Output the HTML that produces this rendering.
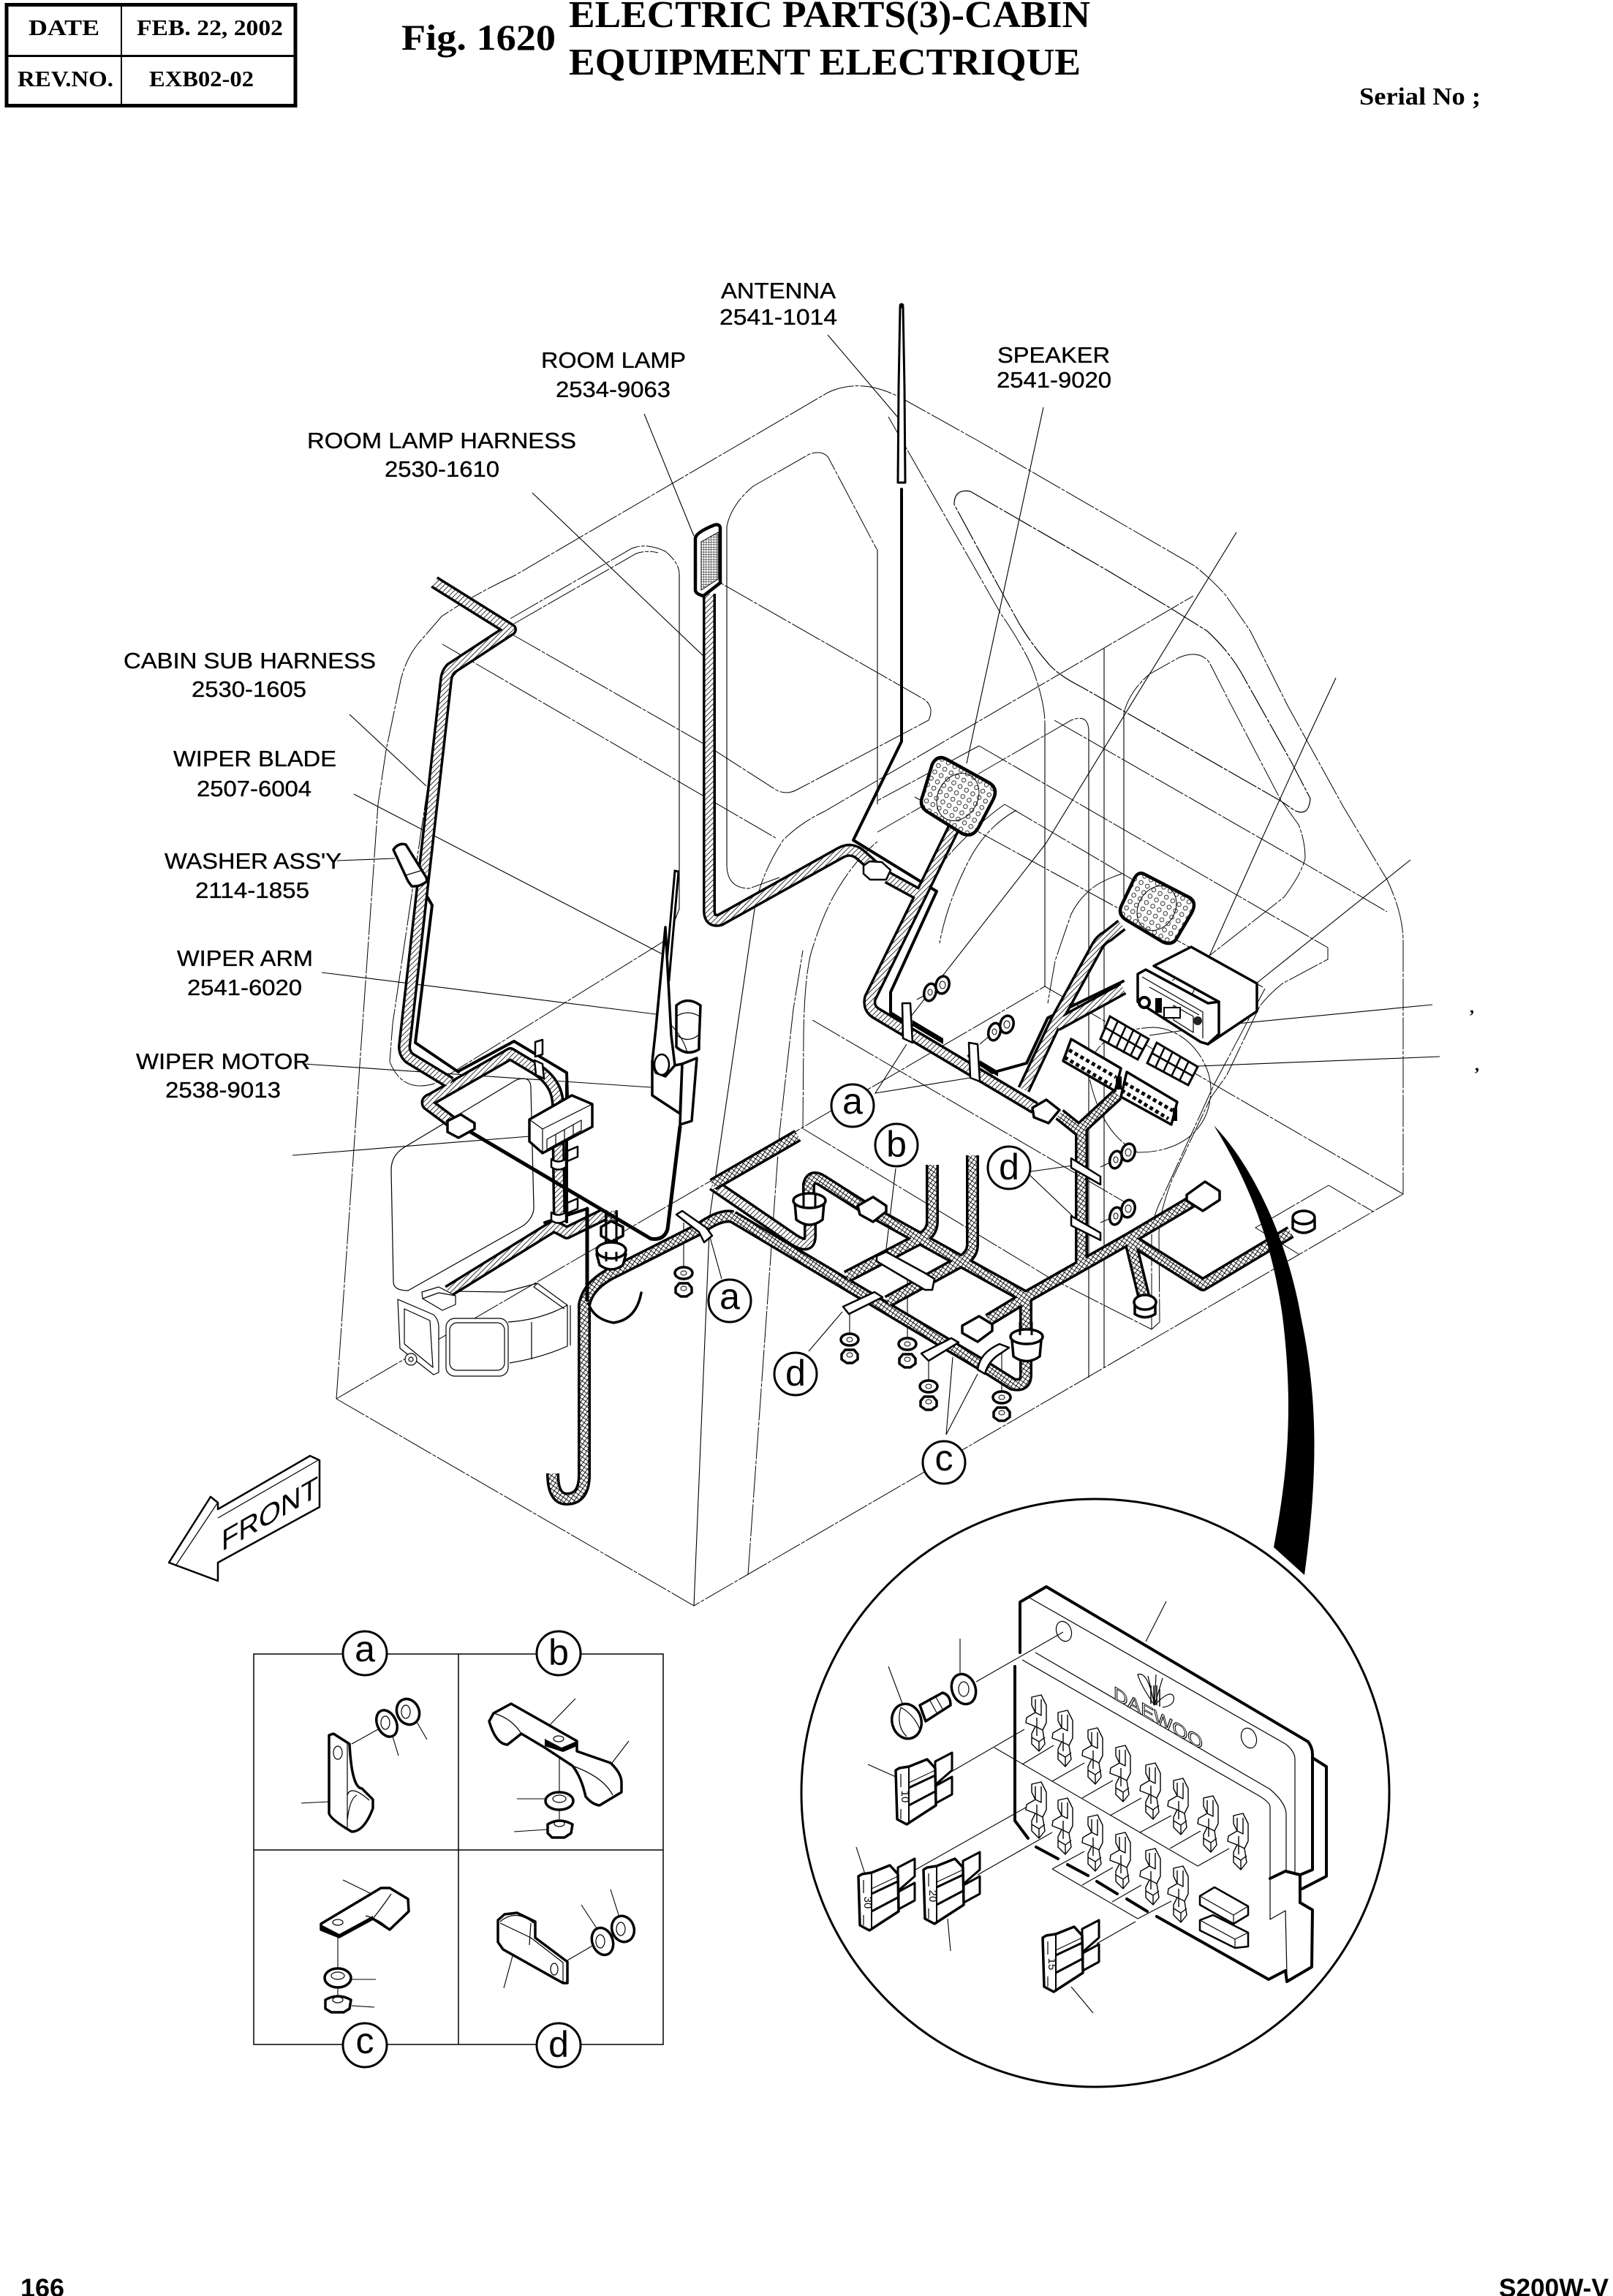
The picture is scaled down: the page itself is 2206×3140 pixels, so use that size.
<!DOCTYPE html>
<html><head><meta charset="utf-8"><title>Fig. 1620</title>
<style>
html,body{margin:0;padding:0;background:#fff;width:2206px;height:3140px;overflow:hidden}
svg{display:block}
.p{fill:none;stroke:#000;stroke-width:1;stroke-dasharray:44 2 5 2}
.l{fill:none;stroke:#000;stroke-width:1.1}
.t{fill:none;stroke:#000;stroke-width:4;stroke-linejoin:round;stroke-linecap:round}
.w{fill:#fff;stroke:#000;stroke-width:2.5;stroke-linejoin:round}
.s{fill:#fff;stroke:#000;stroke-width:3.5;stroke-linejoin:round}
.n{fill:none;stroke:#000;stroke-width:1.2;stroke-linejoin:round}
.lb{font-family:"Liberation Sans",sans-serif;font-size:31px;fill:#000;stroke:#000;stroke-width:.35}
.hd{font-family:"Liberation Serif",serif;font-weight:bold;fill:#000}
.ft{font-family:"Liberation Sans",sans-serif;font-weight:bold;font-size:35px;fill:#000}
.bb{font-family:"Liberation Sans",sans-serif;font-size:50px;fill:#000;text-anchor:middle}
.fz{font-family:"Liberation Sans",sans-serif;font-size:15px;fill:#000;text-anchor:middle}
</style></head><body>
<svg xmlns="http://www.w3.org/2000/svg" width="2206" height="3140" viewBox="0 0 2206 3140">
<defs>
<pattern id="xh" width="5" height="5" patternUnits="userSpaceOnUse" patternTransform="rotate(35)"><rect width="5" height="5" fill="#fff"/><path d="M0,0H5M0,0V5" stroke="#000" stroke-width="1.7"/></pattern>
<pattern id="hh" width="5" height="5" patternUnits="userSpaceOnUse" patternTransform="rotate(45)"><rect width="5" height="5" fill="#fff"/><path d="M0,0V5" stroke="#000" stroke-width="1.6"/></pattern>
<pattern id="gr" width="3.4" height="3.4" patternUnits="userSpaceOnUse"><rect width="4" height="4" fill="#fff"/><path d="M0,0H4M0,0V4" stroke="#000" stroke-width="1"/></pattern>
<pattern id="dots" width="10" height="10" patternUnits="userSpaceOnUse" patternTransform="rotate(30)"><rect width="10" height="10" fill="#fff"/><circle cx="5" cy="5" r="2.800" fill="#fff" stroke="#000" stroke-width=".8"/></pattern>
<g id="hat" fill="none">
<path d="M594,796 L698,861 L617,914 Q611,920 610,930 L553,1431 Q553,1441 560,1447 L616,1481"/>
<path d="M624,1539 L585,1510 Q583,1505 590,1503 L698,1441 L733,1462 Q762,1480 763,1510 L765,1670"/>
<path d="M970,812 L970,1245 Q970,1262 985,1258 L1150,1166 Q1165,1158 1178,1170 L1195,1185"/>
<path d="M1214,1200 L1260,1225"/>
<path d="M1304,1133 L1190,1365 Q1187,1378 1197,1385 L1415,1515"/>
<path d="M1534,1265 L1515,1280 Q1505,1285 1500,1295 L1445,1395 L1400,1490"/>
<path d="M1536,1352 L1445,1402"/>
<path d="M613,1766 L757,1677 Q767,1681 775,1686 L828,1660"/>
<path d="M975,1620 L1085,1695 Q1108,1710 1108,1690 L1108,1660"/>
</g>
<g id="crs" fill="none">
<path d="M1091,1553 L975,1620"/>
<path d="M1106,1645 L1106,1620 Q1110,1605 1125,1615 L1185,1653"/>
<path d="M1201,1662 L1403,1774 L1546,1693 L1632,1642"/>
<path d="M1403,1774 L1403,1880 Q1403,1897 1385,1893 L1347,1869"/>
<path d="M1403,1774 L1352,1805"/>
<path d="M1479,1545 L1479,1730"/>
<path d="M1546,1695 L1645,1757 L1765,1685"/>
<path d="M1546,1698 L1566,1780"/>
<path d="M1002,1664 L1347,1869"/>
<path d="M1275,1593 L1275,1670 Q1275,1685 1262,1692 L1158,1746"/>
<path d="M1330,1580 L1330,1702 Q1330,1716 1316,1724 L1214,1780"/>
<path d="M1002,1664 Q985,1660 956,1681 L833,1743 Q803,1760 799,1785 L799,2017 Q799,2050 775,2050 Q756,2050 756,2015"/>
<path d="M1475,1546 L1528,1497"/>
<path d="M1449,1524 L1479,1548"/>
<path d="M836,1656 L836,1742"/>
</g>
<g id="sk" fill="#fff" stroke="#000" stroke-width="1.4" stroke-linejoin="round"><path d="M-10,-33 L3,-36 L10,-22 L10,2 L5,12 L8,31 L0,41 L-10,31 L-10,17 L-5,7 L-18,2 L-17,-5 L-5,-12 L-10,-22Z"/><path d="M-5,-30 L-5,-12 M3,-30 L3,-8 L-5,-12 M-5,7 L5,12 M-10,22 L0,28 L8,22 M0,28 L0,41 M-3,-5 L-3,20" fill="none"/></g>
<g id="fu" stroke="#000" stroke-linejoin="round"><path d="M54,-19 L77,-31 L77,-7 L54,13Z M55,14 L77,2 L77,26 L55,38Z" fill="#fff" stroke-width="3"/><path d="M0,-7 L5,-10 L18,-12 L43,-22 L54,-10 L55,41 L15,67 L2,60Z" fill="#fff" stroke-width="3.5"/><path d="M18,-11 L18,67" fill="none" stroke-width="2"/><path d="M18,17 L54,0 M18,41 L54,22" fill="none" stroke-width="3"/><path d="M18,10 L54,-7" fill="none" stroke-width="1"/><path d="M7,-2 V16 M7,46 V60" fill="none" stroke-width="1.2"/></g>
<g id="np"><ellipse cx="0" cy="0" rx="12" ry="8" fill="#fff" stroke="#000" stroke-width="3.500"/><ellipse cx="0" cy="0" rx="4" ry="3" fill="none" stroke="#000"/><path d="M-11,20 L-6,14 L6,14 L11,20 L11,27 L4,32 L-4,32 L-11,27Z" fill="#fff" stroke="#000" stroke-width="3.500" stroke-linejoin="round"/><ellipse cx="0" cy="21" rx="4" ry="3" fill="none" stroke="#000"/></g>
<g id="sp"><ellipse cx="0" cy="0" rx="8" ry="12" fill="#fff" stroke="#000" stroke-width="3.500" transform="rotate(15)"/><ellipse cx="0" cy="0" rx="3" ry="4" fill="none" stroke="#000"/><ellipse cx="17" cy="-10" rx="9" ry="12" fill="#fff" stroke="#000" stroke-width="3.500" transform="rotate(15 17 -10)"/><ellipse cx="17" cy="-10" rx="4" ry="5" fill="none" stroke="#000"/></g>
</defs>
<rect width="2206" height="3140" fill="#fff"/>

<!-- header -->
<rect x="9" y="6.500" width="395" height="138" fill="none" stroke="#000" stroke-width="5"/>
<rect x="7" y="75" width="398" height="3" fill="#000"/>
<rect x="165" y="6" width="2" height="138" fill="#000"/>
<g class="hd" font-size="31">
<text x="39" y="48" textLength="97" lengthAdjust="spacingAndGlyphs">DATE</text>
<text x="187" y="48" textLength="200" lengthAdjust="spacingAndGlyphs">FEB. 22, 2002</text>
<text x="24" y="118" textLength="131" lengthAdjust="spacingAndGlyphs">REV.NO.</text>
<text x="204" y="118" textLength="143" lengthAdjust="spacingAndGlyphs">EXB02-02</text>
</g>
<text class="hd" x="549" y="68" font-size="50" textLength="211" lengthAdjust="spacingAndGlyphs">Fig. 1620</text>
<text class="hd" x="778" y="37" font-size="52" textLength="713" lengthAdjust="spacingAndGlyphs">ELECTRIC PARTS(3)-CABIN</text>
<text class="hd" x="778" y="102" font-size="52" textLength="700" lengthAdjust="spacingAndGlyphs">EQUIPMENT ELECTRIQUE</text>
<text class="hd" x="1859" y="143" font-size="34" textLength="166" lengthAdjust="spacingAndGlyphs">Serial No ;</text>
<text class="hd" x="2010" y="1385" font-size="24">,</text>
<text class="hd" x="2017" y="1464" font-size="24">,</text>
<text class="ft" x="28" y="3141" textLength="60" lengthAdjust="spacingAndGlyphs">166</text>
<text class="ft" x="2050" y="3141" textLength="150" lengthAdjust="spacingAndGlyphs">S200W-V</text>

<!-- phantom cabin lines -->
<g>
<path class="p" d="M460,1913 L517,1100 L528,1026 L546,940 Q552,905 572,880 L604,843 Q650,812 704,787 L1132,537 Q1178,515 1234,545 L1338,603 L1532,715 L1634,774 Q1660,795 1677,815 L1710,863 L1761,965 L1837,1103 L1897,1203 Q1919,1250 1919,1287 L1919,1633"/>
<path class="p" d="M460,1913 L949,2196 L1919,1633"/>
<path class="p" d="M460,1913 L1429,1349 L1919,1633"/>
<path class="l" d="M1429,990 L1429,1349"/>
<path class="l" d="M949,2196 L971,1661 L1032,1243"/>
<path class="p" d="M1032,1243 Q1041,1195 1071,1149 Q1095,1125 1127,1110 L1632,815"/>
<path class="p" d="M1023,2154 L1066,1550 L1085,1380 L1098,1300"/>
<path class="p" d="M1098,1544 L1099,1416 Q1100,1340 1109,1304 Q1125,1250 1145,1217 Q1170,1175 1200,1151"/>
<path class="n" d="M1327,672 L1516,781 L1598,830 L1651,863 Q1680,890 1697,919 L1766,1042 L1792,1092 Q1790,1118 1770,1108 L1751,1095 L1480,940 Q1450,925 1435,909 Q1410,880 1394,853 L1363,797 L1305,690 Q1305,668 1327,672Z" stroke-dasharray="44 2 5 2" stroke-width="1"/>
<path class="p" d="M1215,570 L1368,838 Q1400,885 1412,914 Q1429,960 1429,990"/>
<path class="p" d="M1200,1138 L1465,985 Q1489,975 1489,1001"/>
<path class="l" d="M1489,1001 L1489,1884"/>
<path class="l" d="M1510,886 L1510,1871"/>
<path class="l" d="M1537,975 L1537,1230"/>
<path class="p" d="M1442,985 L1786,1182 L1897,1247"/>
<path class="p" d="M1537,975 Q1545,945 1572,922 L1613,899 Q1640,888 1654,906 L1679,955 L1751,1093 L1776,1128 Q1785,1150 1785,1174 Q1780,1195 1756,1227 L1654,1307 L1603,1341"/>
<path class="p" d="M1339,1020 L1816,1296 L1816,1312 L1754,1345 Q1735,1360 1723,1376 L1678,1470 L1656,1501 L1603,1613 Q1585,1660 1585,1689 L1586,1808"/>
<path class="p" d="M1730,1352 L1660,1484 L1591,1635 Q1575,1665 1575,1690 L1575,1818"/>
<path class="p" d="M1339,1020 L1200,1095 M1251,1090 L1727,1350"/>
<path class="p" d="M1374,1100 L1600,1233"/>
<path class="p" d="M1374,1100 Q1345,1120 1307,1159 Q1265,1205 1241,1250 Q1225,1285 1215,1330"/>
<path class="p" d="M1390,1108 Q1350,1130 1326,1175 Q1295,1235 1285,1290"/>
<path class="p" d="M1534,1195 Q1505,1205 1492,1216 Q1475,1230 1465,1250 L1443,1314 L1433,1372"/>
<path class="p" d="M1489,1470 Q1492,1410 1576,1405 C1620,1405 1656,1450 1656,1490 C1656,1540 1620,1576 1556,1576 Q1505,1550 1489,1470"/>
<path class="p" d="M1111,1395 L1540,1645"/>
<path class="p" d="M1099,1544 L1433,1746 L1575,1818 L1586,1808"/>
<path class="p" d="M1817,1621 L1878,1657 M1817,1621 L1717,1679 L1776,1715"/>
<path class="p" d="M698,846 L864,750 Q884,742 910,754 Q929,770 929,785"/>
<path class="p" d="M703,853 L870,757 Q885,752 900,756"/>
<path class="l" d="M929,785 L929,1243 L920,1266"/>
<path class="p" d="M910,1286 L594,1482 Q550,1495 533,1452 L537,1400 L601,968 Q608,930 640,905"/>
<path class="p" d="M701,868 L969,1021 L1061,1080 Q1075,1088 1090,1080 L1270,985 Q1278,968 1265,957 L985,797"/>
<path class="p" d="M605,881 L1061,1146"/>
<path class="p" d="M994,720 Q1000,690 1030,665 L1107,621 Q1125,615 1133,626 L1199,751"/>
<path class="l" d="M994,720 L994,1184"/>
<path class="p" d="M994,1184 Q995,1215 1025,1215 L1066,1200"/>
<path class="l" d="M1200,751 L1200,1100"/>
<path class="n" d="M535,1600 Q535,1580 553,1569 L706,1477 Q726,1470 726,1488 L730,1651 Q730,1665 716,1676 L558,1765 Q538,1765 538,1753Z"/>
</g>

<!-- leaders -->
<g class="l">
<path d="M1132,458 L1229,572"/>
<path d="M881,566 L949,733"/>
<path d="M728,674 L964,899"/>
<path d="M1427,557 L1322,1044"/>
<path d="M478,977 L583,1075"/>
<path d="M484,1086 L910,1307"/>
<path d="M461,1177 L540,1174"/>
<path d="M440,1330 L905,1388"/>
<path d="M415,1455 L890,1487"/>
<path d="M400,1580 L737,1553"/>
<path d="M1691,728 L1430,1154 L1238,1400"/>
<path d="M1827,927 L1789,1008 L1725,1149 L1629,1363"/>
<path d="M1929,1176 L1718,1345 L1678,1379"/>
<path d="M1959,1374 L1660,1403 L1572,1416"/>
<path d="M1969,1445 L1639,1458"/>
<path d="M1240,1428 L1197,1495 L1327,1474"/>
<path d="M1467,1594 L1404,1603 L1467,1663"/>
<path d="M1225,1598 L1212,1708"/>
<path d="M987,1749 L971,1692"/>
<path d="M1106,1848 L1152,1794"/>
<path d="M1303,1856 L1294,1962 L1337,1879"/>
<path d="M1162,1797 V1830 M1241,1745 V1838 M1270,1861 V1896 M1370,1845 V1911 M935,1672 V1740"/>
<path d="M1254,1367 L1272,1357 M1340,1428 L1360,1411 M1505,1596 L1526,1586 M1505,1672 L1526,1663"/>
</g>

<!-- antenna -->
<path d="M1231,420 L1235,420 L1237,530 L1238,660 L1228,660 L1229,530Z" fill="#fff" stroke="#000" stroke-width="3" stroke-linejoin="round"/>
<circle cx="1233" cy="418" r="3.500" fill="#000"/>
<g class="t">
<path d="M1233,669 L1233,1014 L1167,1149 L1281,1219 L1218,1357 L1218,1385 L1247,1403"/>
<path d="M1325,1444 L1357,1467 L1404,1454 L1433,1392 L1536,1342"/>
<path d="M627,1465 L703,1424 L775,1467 L776,1500"/>
<path d="M573,1207 L591,1238 L568,1426 L627,1466"/>
<path d="M775,1482 L775,1671"/>
</g>

<!-- cables -->
<use href="#hat" stroke="#000" stroke-width="18" stroke-linejoin="round"/>
<use href="#hat" stroke="url(#hh)" stroke-width="11" stroke-linejoin="round"/>
<use href="#crs" stroke="#000" stroke-width="18" stroke-linejoin="round"/>
<use href="#crs" stroke="url(#xh)" stroke-width="11" stroke-linejoin="round"/>
<g class="t">
<path d="M803,1653 L803,1778" stroke-width="5"/>
<path d="M930,1541 L913,1681 Q908,1697 890,1694 L640,1546" stroke-width="5"/>
<path d="M805,1783 Q812,1804 839,1809 Q870,1805 877,1768" stroke-width="3.5"/>
<path d="M745,1672 L803,1653"/>
</g>

<!-- hex connector on roof harness -->
<path class="w" stroke-width="3" d="M1181,1184 L1189,1178 L1206,1179 L1218,1190 L1212,1203 L1190,1203 L1181,1195Z"/>

<!-- room lamp, speakers -->
<path d="M951,736 Q952,728 977,718 Q985,716 985,723 L985,797 L962,815 Q951,812 951,807Z" fill="#fff" stroke="#000" stroke-width="4.500"/>
<path d="M959,741 L982,728 L982,792 L959,807Z" fill="url(#gr)" stroke="#000"/>
<path d="M1294,1038 Q1282,1032 1275,1045 L1262,1088 Q1256,1102 1268,1110 L1316,1140 Q1330,1146 1338,1132 L1358,1094 Q1366,1078 1352,1070Z" fill="url(#dots)" stroke="#000" stroke-width="4.500"/>
<ellipse cx="1310" cy="1090" rx="27" ry="34" fill="none" stroke="#000" stroke-width="1" transform="rotate(30 1310 1090)"/>
<path d="M1566,1196 Q1556,1190 1550,1204 L1534,1238 Q1528,1250 1540,1258 L1590,1288 Q1604,1294 1610,1282 L1630,1248 Q1638,1232 1624,1226Z" fill="url(#dots)" stroke="#000" stroke-width="4.500"/>
<ellipse cx="1582" cy="1242" rx="25" ry="32" fill="none" stroke="#000" stroke-width="1" transform="rotate(30 1582 1242)"/>

<!-- radio and relay grids -->
<path class="s" d="M1578,1321 L1629,1295 L1719,1345 L1719,1383 L1652,1428 L1667,1370Z"/>
<path class="s" d="M1556,1332 L1567,1326 L1652,1372 L1667,1370 L1667,1414 L1652,1428 L1642,1425 L1556,1370Z"/>
<path class="n" d="M1562,1336 L1645,1384 L1645,1420 M1578,1321 L1667,1370 M1572,1350 L1640,1388 M1605,1375 L1632,1390 L1632,1412 L1605,1395Z"/>
<circle cx="1565" cy="1371" r="7" fill="#fff" stroke="#000" stroke-width="4"/>
<rect x="1580" y="1365" width="9" height="20" fill="#000"/>
<rect x="1592" y="1378" width="22" height="14" fill="#fff" stroke="#000" stroke-width="2"/>
<circle cx="1638" cy="1396" r="6" fill="#222"/>
<g fill="#fff" stroke="#000" stroke-width="3">
<path d="M1518,1390 L1571,1421 L1556,1449 L1505,1421Z"/>
<path d="M1582,1426 L1638,1459 L1625,1484 L1569,1454Z"/>
</g>
<g stroke="#000" stroke-width="2.500" fill="none">
<path d="M1529,1396 L1515,1427 M1540,1403 L1526,1434 M1550,1409 L1536,1440 M1560,1415 L1546,1444 M1511,1405 L1564,1436"/>
<path d="M1593,1432 L1580,1460 M1604,1438 L1591,1466 M1615,1445 L1602,1472 M1626,1451 L1613,1478 M1575,1440 L1632,1472"/>
</g>
<g>
<path class="s" stroke-width="3" d="M1465,1421 L1533,1461 L1525,1492 L1454,1451Z"/>
<path class="s" stroke-width="3" d="M1541,1466 L1610,1507 L1602,1538 L1533,1500Z"/>
<path d="M1462,1436 L1526,1473 M1456,1446 L1520,1484 M1538,1481 L1604,1519 M1534,1491 L1598,1530" stroke="#000" stroke-width="5" stroke-dasharray="5 4" fill="none"/>
<rect x="1526" y="1472" width="8" height="18" fill="#000"/>
<rect x="1604" y="1515" width="6" height="18" fill="#000"/>
</g>

<!-- clips upper harness -->
<g class="w" stroke-width="3">
<path d="M1234,1372 L1245,1372 L1248,1426 L1235,1420Z"/>
<path d="M1325,1426 L1337,1428 L1340,1479 L1327,1474Z"/>
<path d="M1465,1584 L1505,1609 L1505,1620 L1465,1597Z"/>
<path d="M1465,1663 L1505,1686 L1505,1696 L1465,1676Z"/>
<path d="M925,1661 L933,1656 L966,1679 L974,1690 L963,1699 L956,1685Z"/>
<path d="M1199,1718 L1212,1712 L1265,1741 L1278,1749 L1275,1764 L1265,1764 L1199,1725Z"/>
<path d="M1153,1787 L1196,1767 L1207,1774 L1161,1797Z"/>
<path d="M1260,1851 L1301,1830 L1311,1836 L1270,1861Z"/>
<path d="M1337,1873 Q1340,1850 1367,1838 L1380,1843 L1370,1850 Q1352,1860 1347,1879Z"/>
<path d="M776,1574 L790,1568 L790,1582 L776,1588Z"/>
<path d="M776,1645 L790,1639 L790,1653 L776,1659Z"/>
<path d="M754,1585 Q763,1592 774,1585 L774,1596 Q763,1603 754,1596Z"/>
<path d="M754,1658 Q763,1665 774,1658 L774,1669 Q763,1676 754,1669Z"/>
<path d="M731,1450 L742,1455 L744,1475 L733,1470Z"/>
<path d="M732,1425 L742,1422 L742,1442 L732,1445Z"/>
</g>
<g fill="#000"><path d="M1248,1395 L1290,1420 L1290,1428 L1248,1403Z M1340,1450 L1365,1465 L1365,1472 L1340,1458Z"/></g>
<g>
<use href="#sp" x="1272" y="1357"/><use href="#sp" x="1360" y="1411"/>
<use href="#sp" x="1526" y="1586"/><use href="#sp" x="1526" y="1663"/>
<use href="#np" x="1162" y="1832"/><use href="#np" x="1241" y="1838"/>
<use href="#np" x="1270" y="1896"/><use href="#np" x="1370" y="1911"/>
<use href="#np" x="935" y="1741"/>
</g>

<!-- connectors, grommets, bolts -->
<g class="s" stroke-width="3">
<path d="M1173,1649 L1194,1637 L1212,1649 L1212,1657 L1194,1671 L1176,1661Z"/>
<path d="M1623,1634 L1648,1616 L1668,1629 L1668,1641 L1645,1656 L1623,1642Z"/>
<path d="M1316,1813 L1339,1800 L1357,1811 L1357,1820 L1337,1835 L1316,1823Z"/>
<path d="M1412,1515 L1431,1504 L1449,1518 L1434,1536 L1414,1528Z"/>
<path d="M612,1533 L630,1524 L649,1536 L649,1544 L627,1556 L612,1548Z"/>
<path d="M1087,1645 L1127,1645 L1125,1668 Q1107,1682 1089,1668Z"/>
<ellipse cx="1107" cy="1642" rx="22" ry="10"/>
<path d="M1384,1833 L1424,1833 L1422,1855 Q1404,1868 1386,1855Z"/>
<ellipse cx="1404" cy="1828" rx="22" ry="10"/>
<path d="M1552,1782 L1580,1782 L1580,1797 Q1566,1806 1552,1797Z"/>
<ellipse cx="1566" cy="1781" rx="15" ry="10"/>
<path d="M1768,1668 L1798,1668 L1798,1680 Q1783,1692 1768,1680Z"/>
<ellipse cx="1783" cy="1665" rx="15" ry="9"/>
<path d="M816,1715 L856,1715 L852,1730 Q836,1742 820,1730Z"/>
<ellipse cx="836" cy="1710" rx="20" ry="11"/>
<path d="M822,1678 L836,1670 L852,1678 L852,1690 L836,1698 L822,1690Z"/>
</g>
<path d="M829,1655 L829,1700 M843,1655 L843,1700 M829,1712 L829,1725 M843,1712 L843,1725" stroke="#000" stroke-width="3"/>
<path d="M1099,1632 V1650 M1115,1632 V1650 M1395,1808 V1826 M1411,1808 V1826" stroke="#000" stroke-width="3"/>

<!-- washer tank, wiper, motor, controller -->
<path class="s" d="M538,1162 Q545,1152 555,1155 L583,1200 L584,1205 Q575,1213 563,1212 L558,1205Z"/>
<path class="n" d="M555,1197 L578,1190"/>
<path d="M923,1191 L928,1192 L915,1340 L910,1337Z" fill="#fff" stroke="#000" stroke-width="3"/>
<path class="s" d="M910,1268 L897,1406 L892,1452 L897,1467 L910,1472 L923,1457 L918,1416Z"/>
<path class="s" stroke-width="3" d="M925,1426 L925,1375 Q940,1362 958,1375 L956,1426 L956,1435 Q940,1445 925,1432Z"/>
<path class="n" d="M925,1390 Q940,1380 957,1390 M925,1415 Q940,1428 956,1415 M918,1402 Q935,1420 940,1440"/>
<path class="s" d="M892,1452 L892,1498 L930,1523 L933,1455 L923,1457 L910,1472 L897,1467Z"/>
<path class="s" d="M933,1455 L953,1447 L946,1533 L930,1538Z"/>
<ellipse cx="905" cy="1456" rx="10" ry="14" fill="#fff" stroke="#000" stroke-width="2.500"/>
<path class="s" stroke-width="3" d="M724,1531 L782,1498 L810,1510 L810,1541 L742,1577 L724,1561Z"/>
<path class="n" stroke-width="2" d="M742,1544 L810,1510 M742,1544 L742,1577 M724,1531 L742,1544 M748,1558 L795,1532 L795,1546 L748,1572Z M760,1552 V1568 M772,1545 V1561 M784,1538 V1554"/>

<!-- duct -->
<g class="n" stroke-width="1.500">
<path fill="#fff" d="M544,1777 L593,1798 Q600,1805 600,1815 L600,1877 L593,1880 L547,1844Z"/>
<path d="M553,1790 L588,1806 L592,1870 L553,1838Z"/>
<rect x="610" y="1803" width="85" height="79" rx="12" fill="#fff"/>
<rect x="615" y="1809" width="75" height="65" rx="10"/>
<path d="M695,1808 Q740,1805 776,1785 L776,1841 Q740,1857 697,1864"/>
<path d="M780,1785 L780,1840 M776,1785 L735,1755 L730,1760 L772,1790"/>
<path d="M727,1808 L727,1859"/>
<path d="M623,1766 L690,1767 L735,1755"/>
<circle cx="562" cy="1859" r="8" fill="#fff"/><circle cx="562" cy="1859" r="3"/>
<path fill="#fff" d="M577,1767 L600,1760 L623,1772 L623,1784 L605,1792 L578,1776Z"/>
<path d="M578,1776 L600,1768 L623,1772"/>
</g>

<!-- front arrow -->
<path class="w" stroke-width="4" d="M231,2137 L288,2047 L298,2055 L298,2064 L424,1991 L437,1997 L437,2061 L298,2137 L298,2162Z"/>
<path class="n" d="M241,2140 L297,2056 M298,2076 L435,1997"/>
<text transform="translate(303,2122) skewY(-30)" font-family="'Liberation Sans',sans-serif" font-size="40" textLength="132" lengthAdjust="spacingAndGlyphs" fill="#000">FRONT</text>

<!-- big circle -->
<circle cx="1498" cy="2452" r="402" fill="#fff" stroke="#000" stroke-width="3"/>
<g>
<path class="t" d="M1395,2260 L1395,2191 L1431,2170 L1789,2382 Q1795,2390 1795,2399 L1795,2557 L1778,2564" stroke-width="3.500"/>
<path class="t" d="M1388,2279 L1388,2490 L1406,2514 M1417,2526 L1447,2542 M1460,2550 L1488,2565 M1500,2573 L1528,2590 M1541,2597 L1569,2614 M1582,2621 L1735,2707 L1758,2695 L1760,2710 L1794,2690 L1795,2612 L1778,2602" stroke-width="3.500"/>
<path class="t" stroke-width="2.500" d="M1795,2404 L1814,2416 L1814,2566 L1781,2583 M1737,2569 L1758,2559 L1778,2564 L1778,2602"/>
<path class="n" d="M1406,2184 L1758,2385 Q1771,2395 1771,2406 L1771,2561 M1416,2260 L1737,2447 Q1758,2465 1759,2480 L1759,2561 M1398,2270 L1722,2456 Q1737,2465 1737,2471 L1737,2569 L1737,2625 L1758,2613 L1760,2700"/>
<ellipse cx="1455" cy="2231" rx="10" ry="14" class="n" transform="rotate(-20 1455 2231)"/>
<ellipse cx="1708" cy="2377" rx="10" ry="14" class="n" transform="rotate(-20 1708 2377)"/>
<text transform="translate(1523,2323) skewY(30)" font-family="'Liberation Sans',sans-serif" font-size="25" textLength="122" lengthAdjust="spacingAndGlyphs" fill="#fff" stroke="#000" stroke-width="1">DAEWOO</text>
<path class="n" d="M1579,2332 Q1560,2305 1556,2290 Q1570,2285 1579,2332 M1579,2332 L1570,2292 M1579,2332 L1581,2290 M1579,2332 L1590,2295 M1579,2332 Q1600,2310 1605,2320 Q1608,2332 1590,2335"/>
<path d="M1574,2305 L1574,2330 M1578,2305 L1578,2332 M1582,2305 L1582,2332 M1586,2310 L1586,2334" stroke="#000" stroke-width="1.500"/>
<g class="l">
<path d="M1301,2423 L1401,2365 M1360,2390 L1638,2552 L1681,2528 M1398,2413 L1441,2387 M1439,2436 L1483,2411 M1480,2459 L1522,2435 M1518,2483 L1561,2459 M1559,2506 L1602,2483 M1600,2528 L1642,2504"/>
<path d="M1252,2557 L1424,2460 M1337,2564 L1439,2506 M1439,2556 L1483,2532 M1439,2556 L1556,2624 M1480,2578 L1522,2554 M1521,2601 L1561,2578 M1556,2624 L1602,2600 M1500,2658 L1553,2628"/>
<path d="M1335,2300 L1454,2232 M1215,2279 L1235,2332 M1313,2241 L1313,2291 M1187,2413 L1225,2430 M1171,2526 L1184,2566 M1296,2624 L1300,2668 M1465,2717 L1495,2753 M1595,2190 L1567,2245"/>
</g>
<use href="#sk" x="1421" y="2354"/><use href="#sk" x="1457" y="2375"/><use href="#sk" x="1498" y="2399"/><use href="#sk" x="1536" y="2423"/><use href="#sk" x="1577" y="2447"/><use href="#sk" x="1615" y="2468"/><use href="#sk" x="1656" y="2492"/><use href="#sk" x="1697" y="2516"/>
<use href="#sk" x="1421" y="2473"/><use href="#sk" x="1457" y="2495"/><use href="#sk" x="1498" y="2518"/><use href="#sk" x="1536" y="2542"/><use href="#sk" x="1577" y="2564"/><use href="#sk" x="1615" y="2588"/>
<path class="w" stroke-width="1.500" d="M1641,2593 L1661,2581 L1707,2607 L1707,2619 L1687,2631 L1641,2605Z"/>
<path class="n" d="M1641,2593 L1687,2619 L1707,2607 M1687,2619 L1687,2631"/>
<path class="w" stroke-width="1.500" d="M1641,2626 L1659,2619 L1707,2643 L1707,2662 L1689,2664 L1641,2640Z"/>
<path class="n" d="M1641,2626 L1689,2652 L1707,2643 M1689,2652 L1689,2664"/>
<ellipse cx="1318" cy="2310" rx="16" ry="21" class="s" transform="rotate(-20 1318 2310)"/>
<ellipse cx="1318" cy="2310" rx="7" ry="10" class="n"/>
<path class="s" stroke-width="2.500" d="M1258,2332 L1289,2315 Q1300,2318 1300,2332 L1266,2354Z"/>
<path class="n" d="M1272,2326 L1282,2344 M1280,2321 L1290,2339"/>
<ellipse cx="1240" cy="2354" rx="20" ry="24" class="s" transform="rotate(-15 1240 2354)"/>
<path class="n" d="M1232,2335 Q1225,2360 1240,2375 M1232,2335 Q1250,2345 1258,2365"/>
<use href="#fu" x="1225" y="2428"/><text class="fz" transform="translate(1233,2457) rotate(90)">10</text>
<use href="#fu" x="1174" y="2573"/><text class="fz" transform="translate(1182,2602) rotate(90)">30</text>
<use href="#fu" x="1263" y="2564"/><text class="fz" transform="translate(1271,2593) rotate(90)">20</text>
<use href="#fu" x="1426" y="2657"/><text class="fz" transform="translate(1434,2686) rotate(90)">15</text>
</g>

<!-- wedge -->
<path d="M1660,1539 C1710,1590 1760,1690 1779,1800 C1800,1900 1805,2000 1784,2154 L1742,2116 C1760,2020 1770,1930 1754,1800 C1740,1700 1710,1620 1660,1539Z" fill="#000"/>

<!-- inset -->
<g>
<rect x="347" y="2262" width="560" height="534" fill="#fff" stroke="#000" stroke-width="1.500"/>
<path d="M627,2262 V2796 M347,2530 H907" stroke="#000" stroke-width="1.500"/>
<g class="l">
<path d="M412,2466 L450,2464 M537,2375 L545,2401 M570,2355 L584,2379 M481,2385 L517,2365"/>
<path d="M787,2323 L749,2362 M860,2381 L837,2411 M707,2460 L747,2460 M703,2505 L749,2502 M765,2404 L765,2488"/>
<path d="M469,2571 L506,2589 M481,2707 L514,2707 M481,2743 L512,2745 M462,2649 L462,2733"/>
<path d="M689,2719 L701,2675 M795,2605 L816,2637 M835,2584 L847,2622 M776,2681 L812,2660"/>
</g>
<!-- a -->
<path class="s" d="M450,2373 L450,2480 Q452,2488 481,2505 Q498,2505 510,2473 L510,2461 L495,2446 Q481,2445 478,2385 L456,2371Z"/>
<path class="n" stroke-width="2" d="M475,2385 L475,2500 M475,2455 Q480,2440 505,2462 M475,2490 Q478,2460 488,2455"/>
<ellipse cx="462" cy="2397" rx="6" ry="9" class="n" stroke-width="2"/>
<ellipse cx="529" cy="2357" rx="13" ry="19" class="s" transform="rotate(-25 529 2357)"/><ellipse cx="527" cy="2356" rx="6" ry="9" class="n"/>
<ellipse cx="558" cy="2341" rx="15" ry="18" class="s" transform="rotate(-25 558 2341)"/><ellipse cx="555" cy="2341" rx="6" ry="9" class="n"/>
<!-- b -->
<path class="s" d="M669,2354 L675,2343 L699,2330 L789,2381 L789,2395 L835,2411 Q850,2425 850,2438 L850,2451 L820,2469 Q810,2468 801,2457 Q795,2430 783,2415 L745,2390 L713,2371 L694,2386 Q678,2385 669,2354Z"/>
<path class="n" stroke-width="2" d="M675,2343 Q700,2350 713,2371 M783,2415 Q825,2430 838,2455"/>
<path d="M745,2388 L770,2396 L789,2388 L789,2381 L768,2390 L745,2378Z" fill="#000"/>
<ellipse cx="764" cy="2378" rx="7" ry="4" class="n" stroke-width="2"/>
<ellipse cx="765" cy="2463" rx="19" ry="12" class="s"/><ellipse cx="765" cy="2460" rx="9" ry="5" class="n"/>
<path class="s" d="M749,2495 Q765,2485 783,2495 L781,2507 L772,2513 L755,2513 L749,2507Z"/><ellipse cx="765" cy="2494" rx="7" ry="4" class="n"/>
<!-- c -->
<path class="s" d="M439,2631 L521,2582 L533,2582 L558,2597 L559,2614 L533,2639 L510,2624 L464,2649 L439,2639Z"/>
<path d="M439,2632 L464,2645 L510,2620 L510,2624 L464,2649 L439,2639Z" fill="#000"/>
<path class="n" stroke-width="2" d="M510,2624 Q525,2605 535,2590 M500,2620 Q520,2625 533,2639"/>
<ellipse cx="462" cy="2629" rx="7" ry="4" class="n" stroke-width="2"/>
<ellipse cx="462" cy="2705" rx="18" ry="13" class="s"/><ellipse cx="462" cy="2702" rx="9" ry="5" class="n"/>
<path class="s" d="M445,2735 Q462,2725 480,2735 L478,2747 L470,2752 L453,2752 L445,2747Z"/><ellipse cx="462" cy="2735" rx="7" ry="4" class="n"/>
<!-- d -->
<path class="s" d="M681,2626 L690,2618 L707,2616 L732,2628 L732,2650 L776,2683 L776,2712 L770,2712 L688,2666 L681,2656Z"/>
<path class="n" stroke-width="2" d="M684,2630 Q705,2640 726,2650 L770,2684 L770,2712 M684,2628 Q705,2610 730,2630 M726,2630 L724,2660"/>
<ellipse cx="758" cy="2693" rx="5" ry="8" class="n" stroke-width="2"/>
<ellipse cx="824" cy="2655" rx="14" ry="19" class="s" transform="rotate(-20 824 2655)"/><ellipse cx="821" cy="2655" rx="6" ry="9" class="n"/>
<ellipse cx="852" cy="2638" rx="15" ry="18" class="s" transform="rotate(-20 852 2638)"/><ellipse cx="849" cy="2638" rx="6" ry="9" class="n"/>
</g>

<!-- bubbles -->
<g fill="#fff" stroke="#000" stroke-width="3">
<circle cx="1166" cy="1512" r="29"/><circle cx="1226" cy="1566" r="29"/><circle cx="1380" cy="1597" r="29"/>
<circle cx="998" cy="1779" r="29"/><circle cx="1088" cy="1879" r="29"/><circle cx="1291" cy="2000" r="29"/>
<circle cx="499" cy="2261" r="30"/><circle cx="764" cy="2261" r="30"/><circle cx="499" cy="2797" r="30"/><circle cx="764" cy="2797" r="30"/>
</g>
<g class="bb">
<text x="1166" y="1523">a</text><text x="1226" y="1582">b</text><text x="1380" y="1613">d</text>
<text x="998" y="1790">a</text><text x="1088" y="1895">d</text><text x="1291" y="2011">c</text>
<text x="499" y="2272">a</text><text x="764" y="2277">b</text><text x="499" y="2808">c</text><text x="764" y="2813">d</text>
</g>

<!-- labels -->
<g class="lb">
<text x="986" y="408" textLength="157" lengthAdjust="spacingAndGlyphs">ANTENNA</text>
<text x="984" y="444" textLength="161" lengthAdjust="spacingAndGlyphs">2541-1014</text>
<text x="740" y="503" textLength="198" lengthAdjust="spacingAndGlyphs">ROOM LAMP</text>
<text x="760" y="543" textLength="157" lengthAdjust="spacingAndGlyphs">2534-9063</text>
<text x="1364" y="496" textLength="154" lengthAdjust="spacingAndGlyphs">SPEAKER</text>
<text x="1363" y="530" textLength="157" lengthAdjust="spacingAndGlyphs">2541-9020</text>
<text x="420" y="613" textLength="368" lengthAdjust="spacingAndGlyphs">ROOM LAMP HARNESS</text>
<text x="526" y="652" textLength="157" lengthAdjust="spacingAndGlyphs">2530-1610</text>
<text x="169" y="914" textLength="345" lengthAdjust="spacingAndGlyphs">CABIN SUB HARNESS</text>
<text x="262" y="953" textLength="157" lengthAdjust="spacingAndGlyphs">2530-1605</text>
<text x="237" y="1048" textLength="223" lengthAdjust="spacingAndGlyphs">WIPER BLADE</text>
<text x="269" y="1089" textLength="157" lengthAdjust="spacingAndGlyphs">2507-6004</text>
<text x="225" y="1188" textLength="242" lengthAdjust="spacingAndGlyphs">WASHER ASS'Y</text>
<text x="267" y="1228" textLength="156" lengthAdjust="spacingAndGlyphs">2114-1855</text>
<text x="242" y="1321" textLength="186" lengthAdjust="spacingAndGlyphs">WIPER ARM</text>
<text x="256" y="1361" textLength="157" lengthAdjust="spacingAndGlyphs">2541-6020</text>
<text x="186" y="1462" textLength="238" lengthAdjust="spacingAndGlyphs">WIPER MOTOR</text>
<text x="226" y="1501" textLength="158" lengthAdjust="spacingAndGlyphs">2538-9013</text>
</g>
</svg>
</body></html>
